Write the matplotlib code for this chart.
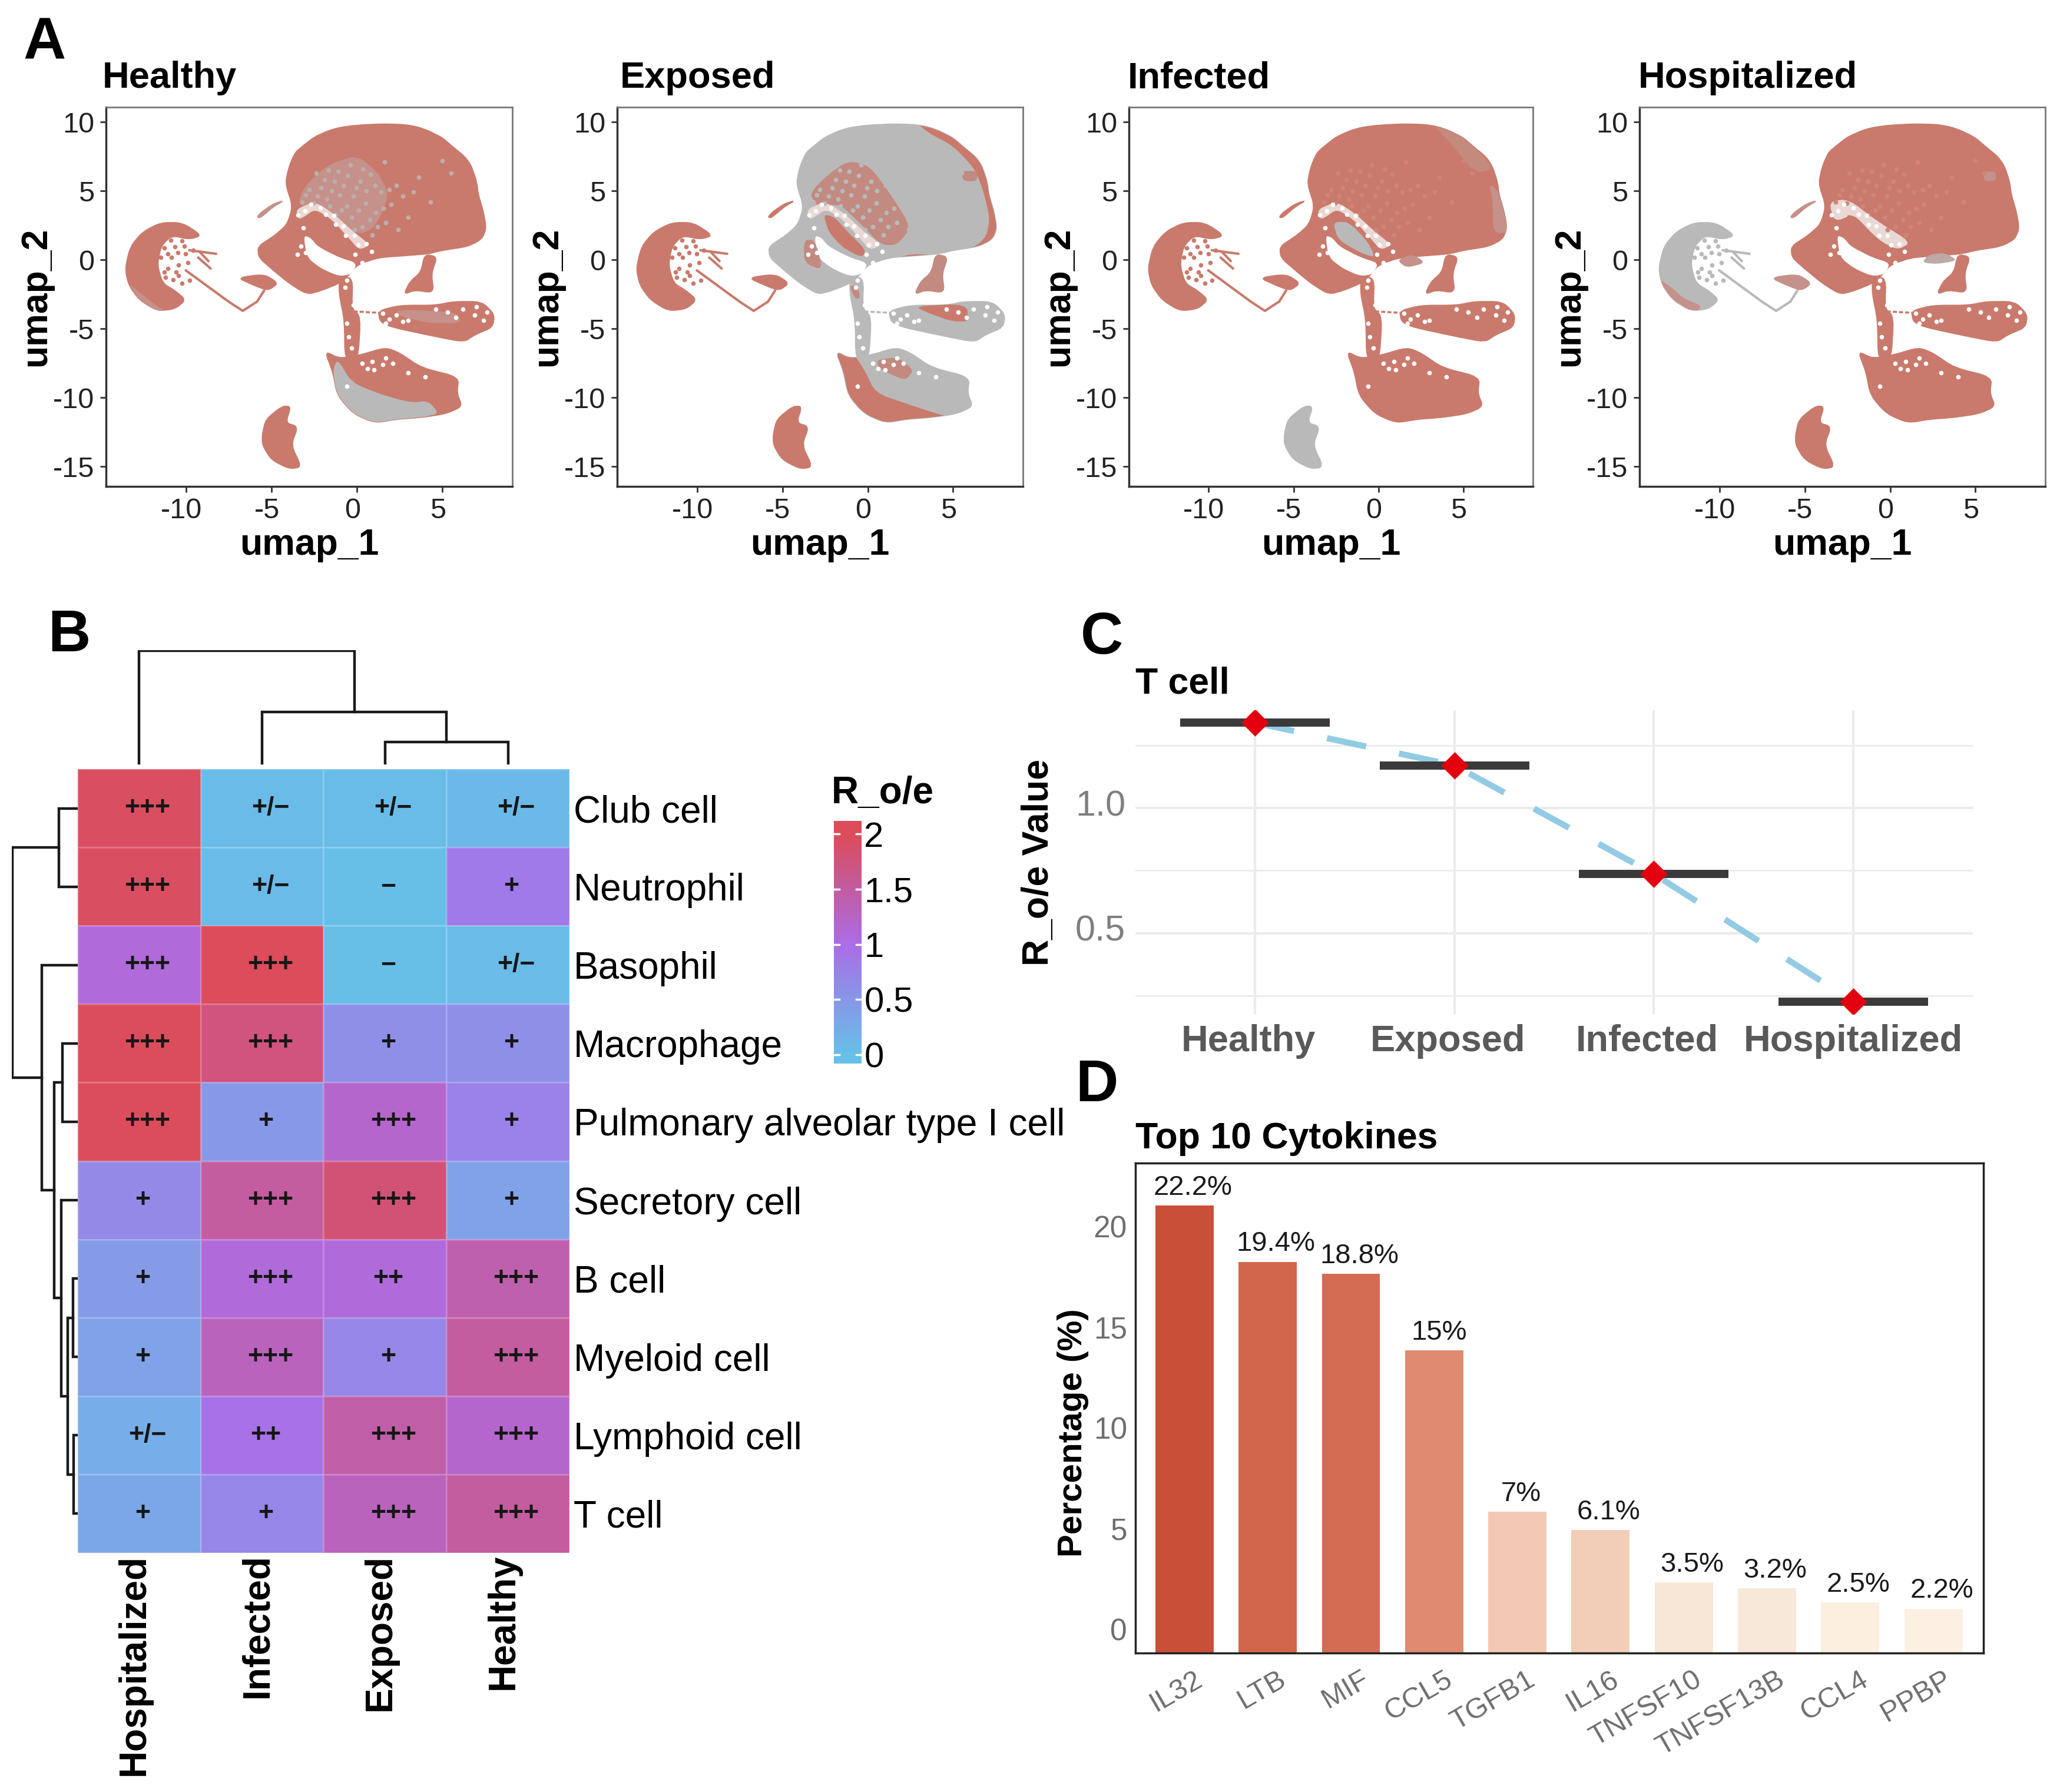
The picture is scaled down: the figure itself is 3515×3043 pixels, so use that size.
"""Four UMAP panels, a clustered R_o/e heatmap, T cell crossbars and cytokine bars."""
import numpy as np
import matplotlib
matplotlib.use("Agg")
import matplotlib.pyplot as plt
from matplotlib.colors import LinearSegmentedColormap
from matplotlib.patches import Polygon
from matplotlib.transforms import ScaledTranslation

plt.rcParams["font.family"] = ["Liberation Sans", "DejaVu Sans"]
plt.rcParams["axes.unicode_minus"] = False

W, H = 3516, 3043
RED = "#c97a6c"
GREY = "#b9b9b9"
MIX = "#c5918a"
MOTTLE = "#c28a80"
PALE = "#e9d8d4"

# ---- UMAP outlines in umap_1 / umap_2 units ----
TOP_BLOB = [(-4.18, 5.49), (-4.05, 6.4), (-3.87, 7.09), (-3.6, 7.8), (-3.13, 8.29), (-2.5, 8.9), (-1.67, 9.36),
            (-1, 9.6), (0, 9.76), (1.4, 9.85), (2.72, 9.81), (3.5, 9.65), (4.18, 9.36), (5.0, 8.85), (5.64, 8.16),
            (6.3, 7.5), (6.69, 6.83), (7.0, 5.7), (7.11, 4.69), (7.4, 3.5), (7.57, 2.29), (7.31, 1.49),
            (6.48, 0.96), (5.02, 0.69), (4.18, 0.43), (2.72, 0.29), (1.25, 0.16), (0, -0.37),
            (-0.52, -1.17), (-1.04, -1.71), (-2.09, -2.24), (-2.93, -2.51), (-3.97, -1.71),
            (-5.02, -0.64), (-5.75, 0.16), (-5.81, 0.96), (-4.81, 1.76), (-4.08, 2.56), (-3.76, 3.89)]
HOLE = [(-3.13, 1.76), (-2.72, 1.6), (-2.3, 0.96), (-1.04, 0.16), (0, -0.24), (-0.31, -1.04),
        (-1.04, -1.2), (-2.09, -0.64), (-2.93, 0.16)]
CRESCENT = [(-13.58, -0.64), (-13.27, 0.96), (-12.54, 2.03), (-11.49, 2.69), (-10.24, 2.69),
            (-9.09, 1.76), (-9.82, 1.49), (-10.87, 1.76), (-11.49, 0.96), (-11.70, -0.37),
            (-11.39, -1.71), (-10.66, -2.24), (-10.03, -2.91), (-10.66, -3.57), (-11.70, -3.71),
            (-12.75, -2.91), (-13.37, -1.84)]
STRIP = [(-5.85, 3.09), (-5.65, 3.05), (-4.9, 3.85), (-4.28, 4.29), (-4.9, 4.05), (-5.6, 3.45)]
WEDGE = [(-7.0, -1.31), (-5.44, -1.05), (-4.6, -1.71), (-5.22, -2.24), (-6.06, -1.84)]
STEM = [(-1.04, -1.3), (-0.25, -1.3), (-0.31, -3.57), (0.21, -4.11), (0.05, -7.3), (-0.7, -7.3),
        (-0.73, -4.37), (-1.04, -2.51)]
BRANCH = [(3.97, 0.4), (4.7, 0.2), (4.35, -1.0), (4.5, -2.4), (3.4, -2.2), (2.75, -2.5), (3.1, -1.6), (3.75, -0.9)]
RIGHT_BLOB = [(1.25, -3.71), (2.51, -3.31), (4.60, -3.31), (5.64, -3.04), (7.31, -3.04), (8.05, -3.97),
              (7.94, -4.91), (6.90, -5.44), (6.27, -5.97), (4.60, -5.57), (2.09, -4.91), (1.36, -4.51)]
BOTTOM_BLOB = [(-1.88, -6.64), (-1.04, -7.17), (0.21, -6.91), (1.67, -6.37), (2.51, -6.77), (3.76, -7.84),
               (5.96, -8.51), (5.85, -9.71), (6.17, -10.64), (5.22, -11.17), (3.76, -11.44), (2.30, -11.57),
               (1.04, -11.84), (-0.21, -11.17), (-1.15, -9.84), (-1.42, -8.11)]
SMALL = [(-5.54, -12.64), (-5.33, -11.57), (-4.39, -10.64), (-3.87, -10.64), (-4.18, -11.84),
         (-3.45, -12.11), (-3.87, -13.44), (-3.24, -15.04), (-3.97, -15.17), (-5.02, -14.51),
         (-5.54, -13.44)]
STREAKS = [[(-10.03, -0.77), (-7.52, -3.04), (-6.69, -3.71), (-5.85, -3.04), (-5.44, -2.24)],
           [(-9.82, 0.69), (-8.25, 0.43)], [(-9.3, 0.16), (-8.57, -0.64)], [(-9.2, 0.55), (-8.7, -0.1)]]
STEM_LINK = [(-0.2, -3.75), (1.3, -3.85)]

# overlays
H_GREY_LOW = [(-1.42, -8.11), (-1.15, -7.17), (-0.31, -8.91), (1.25, -9.71), (3.13, -10.37), (4.18, -10.24),
              (4.81, -11.17), (3.76, -11.44), (2.30, -11.57), (1.04, -11.84), (-0.21, -11.17), (-1.15, -9.84)]
H_MIX_TOP = [(-3.5, 3.9), (-3.1, 5.3), (-1.7, 6.9), (0, 7.6), (1.25, 6.3), (1.9, 4.7), (1.05, 2.3),
             (0, 1.8), (-1.7, 3.7)]
H_MIX_RIGHT = [(2.3, -3.6), (5.85, -3.8), (6.1, -4.6), (4.2, -4.6), (2.5, -4.1)]
H_MIX_CRES = [(-13.4, -1.7), (-12.7, -2.4), (-11.8, -3.3), (-11.2, -3.7), (-11.7, -3.71), (-12.75, -2.91)]
E_MOTTLE = [(-3.42, 4.78), (-2.45, 6.07), (-1.16, 7.19), (0.13, 6.81), (1.42, 4.59), (2.55, 2.37), (1.74, 1.07),
            (0.77, 1.07), (-0.52, 2.74), (-1.65, 4.04), (-2.94, 3.85)]
INNER = [(-2.61, 3.30), (-1.97, 3.11), (-1.16, 2.0), (-0.11, 0.70), (-0.35, 0.15), (-1.48, 0.89), (-2.29, 2.0)]
BAND = [(-3.58, 3.67), (-2.45, 4.22), (-1.32, 3.30), (-0.35, 2.19), (0.77, 1.07), (0.13, 0.70), (-0.52, 1.63),
        (-1.48, 2.93), (-2.45, 3.67), (-3.10, 3.11), (-3.42, 2.93)]
E_RIM_TOP = [(2.39, 10.5), (3.68, 10.5), (8.5, 8.5), (8.5, 0.4), (6.26, 0.2), (4.48, -0.4), (2.39, -0.9),
             (1.26, -0.5), (1.10, -0.22), (2.39, 0.43), (4.48, 0.33), (6.26, 0.89), (6.98, 1.72), (7.15, 3.11),
             (6.74, 5.15), (6.26, 6.63), (4.97, 8.30), (3.52, 9.22)]
E_RIM_LOW = [(-2.2, -6.2), (-1.0, -6.52), (-0.19, -8.0), (0.45, -9.67), (2.39, -10.5), (4.0, -11.15),
             (4.65, -11.37), (4.5, -12.5), (1.42, -12.5), (-2.5, -11.5)]
E_MOTTLE_LOW = [(0.53, -7.26), (1.74, -7.07), (2.71, -8.0), (2.23, -8.74), (1.42, -8.37), (0.61, -7.81)]
E_RED_RIGHT = [(2.71, -3.37), (5.77, -3.19), (5.94, -4.48), (4.97, -4.48), (3.68, -3.93)]
E_SPOT = [(5.45, 6.44), (6.42, 6.44), (6.42, 5.70), (5.61, 5.70)]
E_LOBE = [(-3.74, 1.44), (-3.10, 1.44), (-2.61, -0.78), (-3.74, -0.22)]
E_STEM = [(-1.08, -1.89), (-0.6, -1.89), (-0.44, -2.81), (-0.76, -2.81)]
I_INNER = [(-2.69, 2.74), (-1.73, 2.74), (-0.60, 1.26), (-0.19, 0.15), (-1.08, 0.52), (-2.37, 1.44)]
I_RIGHT = [(6.5, 5.70), (7.8, 3.85), (7.9, 2.0), (6.74, 1.91), (6.74, 4.22)]
I_TOPRIGHT = [(3.11, 9.9), (4.73, 9.2), (6.9, 6.63), (5.69, 6.26), (4.24, 8.48)]
I_MID = [(1.10, -0.04), (1.98, 0.43), (2.79, -0.22), (1.66, -0.59)]
P_CRES = [(-13.6, -1.33), (-12.76, -2.07), (-12.11, -2.81), (-11.0, -3.37), (-11.48, -3.9), (-12.6, -3.5),
          (-13.5, -2.26)]
P_CENTER = [(2.21, 0.33), (3.17, 0.52), (3.98, -0.04), (2.85, -0.31), (1.88, -0.22)]
P_SPOT = [(5.5, 6.4), (6.2, 6.4), (6.2, 5.7), (5.5, 5.7)]
P_BAND = [(-3.59, 4.22), (-2.46, 4.41), (-0.69, 2.74), (1.24, 1.26), (0.43, 0.70), (-0.69, 1.44), (-2.14, 3.30),
          (-3.27, 2.74)]

# loose cells, placed by eye
MOTTLE_SPECKS = [(-3.2, 4.2), (-2.8, 5.1), (-2.3, 4.6), (-1.9, 5.8), (-1.5, 5.0), (-1.1, 6.4), (-0.8, 5.4), (-0.4, 6.9),
                 (-0.2, 4.6), (0.2, 5.7), (0.5, 4.1), (0.8, 6.2), (1.1, 3.4), (1.4, 4.9), (1.7, 2.7), (2.0, 4.0),
                 (2.3, 5.4), (2.4, 2.2), (-0.9, 3.6), (-0.3, 3.1), (0.3, 2.4), (0.9, 1.8), (-1.6, 3.9), (3.0, 3.1),
                 (3.6, 6.0), (4.3, 4.2), (5.0, 7.2), (5.5, 6.3), (1.6, 7.1), (-2.4, 6.3),
                 (-3.0, 4.7), (-2.55, 4.1), (-2.1, 5.2), (-1.75, 4.4), (-1.3, 5.7), (-1.0, 4.7), (-0.55, 6.1),
                 (-0.6, 3.9), (-0.05, 5.2), (0.1, 3.6), (0.55, 5.0), (0.75, 2.9), (1.05, 5.4), (1.2, 2.4), (1.55, 3.7),
                 (1.9, 5.1), (-1.25, 3.3), (-0.15, 2.2), (0.35, 6.6), (-1.65, 6.5), (2.7, 4.6), (3.3, 4.9)]
BAND_SPECKS = [(-3.45, 3.25), (-3.05, 3.55), (-2.7, 4.0), (-2.15, 3.75), (-1.85, 3.3), (-1.35, 3.2), (-1.25, 2.55),
               (-0.8, 2.45), (-0.65, 1.75), (-0.15, 1.75), (0.05, 1.05), (0.55, 1.15), (0.85, 0.6), (-3.3, 1.0),
               (-3.0, 0.5), (-2.8, 1.3), (-0.6, -1.5), (-0.1, 0.4), (0.3, -0.2), (-0.7, -2.0), (-0.2, -3.3),
               (-0.5, -5.6), (-0.3, -6.4), (-0.6, -4.6), (-3.5, 0.4), (-3.15, 2.3)]
LOWER_SPECKS = [(1.5, -3.9), (1.9, -4.3), (2.3, -4.0), (4.6, -3.6), (5.3, -3.8), (6.2, -3.6), (6.9, -4.0), (7.4, -4.4),
                (5.8, -4.2), (3.0, -4.4), (0.3, -7.5), (0.9, -7.4), (1.5, -7.6), (2.1, -7.5), (1.0, -8.0), (3.0, -8.2),
                (4.0, -8.5), (-0.6, -9.2), (1.7, -4.6), (2.7, -4.5), (7.0, -3.4), (7.6, -3.8), (0.6, -7.9), (1.7, -7.15)]
CRES_SPECKS = [(-11.08, 0.43), (-10.66, 0.96), (-10.45, -0.37), (-10.03, 0.43), (-11.08, -0.64), (-10.76, -1.44),
               (-10.24, -1.71), (-11.29, 1.49), (-9.61, 0.69), (-10.45, -1.17), (-10.87, 0.16), (-10.24, 1.36),
               (-11.49, 0.16), (-11.29, -0.91), (-11.2, -1.3), (-10.6, -0.9), (-10.9, 1.4), (-10.5, 0.5), (-9.9, -0.2),
               (-9.8, -1.5), (-11.3, 0.85), (-10.1, 1.0)]

PANEL_NAMES = ["Healthy", "Exposed", "Infected", "Hospitalized"]
PANEL_BOX = [(180, 870), (1048, 1737), (1917, 2603), (2784, 3473)]
# colour of each base shape: top, crescent, strip, wedge, stem, branch, right, bottom, small, streak
PANEL_BASE = {
    "Healthy": [RED, RED, MIX, RED, RED, RED, RED, RED, RED, RED],
    "Exposed": [GREY, RED, RED, RED, GREY, MOTTLE, GREY, GREY, RED, RED],
    "Infected": [RED, RED, RED, RED, RED, RED, RED, RED, GREY, RED],
    "Hospitalized": [RED, GREY, MIX, MIX, RED, RED, RED, RED, RED, GREY],
}
# (outline, colour[, shape that clips it])
PANEL_OVERLAY = {
    "Healthy": [(H_MIX_TOP, MIX), (H_GREY_LOW, GREY), (H_MIX_RIGHT, MIX), (H_MIX_CRES, MIX), (BAND, PALE), (INNER, RED)],
    "Exposed": [(E_MOTTLE, MOTTLE), (E_RIM_TOP, RED, TOP_BLOB), (BAND, PALE), (INNER, RED),
                (E_RIM_LOW, RED, BOTTOM_BLOB), (E_MOTTLE_LOW, MOTTLE), (E_RED_RIGHT, RED), (E_SPOT, MOTTLE),
                (E_LOBE, MOTTLE), (E_STEM, MOTTLE)],
    "Infected": [(BAND, PALE), (I_INNER, GREY), (I_RIGHT, MIX, TOP_BLOB), (I_TOPRIGHT, "#c58a7e", TOP_BLOB), (I_MID, MIX)],
    "Hospitalized": [(P_CRES, MIX, CRESCENT), (P_BAND, PALE), (INNER, RED), (P_CENTER, "#bda9a5"), (P_SPOT, MIX)],
}
MOTTLE_DOT = {"Healthy": "#bcaeaa", "Exposed": GREY, "Infected": "#cd8578", "Hospitalized": "#cd8679"}

# ---- heatmap ----
HM_ROWS = ["Club cell", "Neutrophil", "Basophil", "Macrophage", "Pulmonary alveolar type I cell",
           "Secretory cell", "B cell", "Myeloid cell", "Lymphoid cell", "T cell"]
HM_COLS = ["Hospitalized", "Infected", "Exposed", "Healthy"]
HM_VALUES = [[1.95, 0.07, 0.05, 0.08],
             [1.95, 0.07, 0.02, 0.85],
             [1.10, 2.00, 0.02, 0.07],
             [1.98, 1.75, 0.60, 0.58],
             [1.98, 0.48, 1.20, 0.75],
             [0.65, 1.50, 1.80, 0.36],
             [0.45, 1.10, 1.10, 1.40],
             [0.36, 1.30, 0.70, 1.50],
             [0.22, 0.95, 1.45, 1.20],
             [0.30, 0.70, 1.30, 1.50]]
HM_MARKS = [["+++", "+/−", "+/−", "+/−"],
            ["+++", "+/−", "−", "+"],
            ["+++", "+++", "−", "+/−"],
            ["+++", "+++", "+", "+"],
            ["+++", "+", "+++", "+"],
            ["+", "+++", "+++", "+"],
            ["+", "+++", "++", "+++"],
            ["+", "+++", "+", "+++"],
            ["+/−", "++", "+++", "+++"],
            ["+", "+", "+++", "+++"]]
# (pos a, height a, pos b, height b, join height)
COL_LINKS = [(2.5, 0.08, 3.5, 0.08, 0.36), (1.5, 0.08, 3.0, 0.36, 0.76), (0.5, 0.08, 2.25, 0.76, 1.58)]
ROW_LINKS = [(0.5, 0.02, 1.5, 0.02, 0.27), (3.5, 0.02, 4.5, 0.02, 0.22), (6.5, 0.02, 7.5, 0.02, 0.07),
             (8.5, 0.02, 9.5, 0.02, 0.06), (7.0, 0.07, 9.0, 0.06, 0.14), (5.5, 0.02, 8.0, 0.14, 0.24),
             (4.0, 0.22, 6.75, 0.24, 0.34), (2.5, 0.02, 5.375, 0.34, 0.52), (1.0, 0.27, 3.94, 0.52, 0.94)]
CBAR_TICKS = [0, 0.5, 1, 1.5, 2]
CBAR_LABELS = ["0", "0.5", "1", "1.5", "2"]

# ---- T cell ----
TCELL_GROUPS = ["Healthy", "Exposed", "Infected", "Hospitalized"]
TCELL_VALUES = [1.34, 1.17, 0.737, 0.228]

# ---- cytokines ----
CYTOKINES = ["IL32", "LTB", "MIF", "CCL5", "TGFB1", "IL16", "TNFSF10", "TNFSF13B", "CCL4", "PPBP"]
CYTOKINE_PCT = [22.2, 19.4, 18.8, 15, 7, 6.1, 3.5, 3.2, 2.5, 2.2]
CYTOKINE_LABELS = ["22.2%", "19.4%", "18.8%", "15%", "7%", "6.1%", "3.5%", "3.2%", "2.5%", "2.2%"]
CYTOKINE_COLORS = ["#c84f38", "#d2664c", "#d36c53", "#e08b70", "#f2c9b2", "#f2cdb8", "#f8e6d6", "#f8e8da",
                   "#fbefe0", "#fbf0e2"]

fig = plt.figure(figsize=(W / 100, H / 100), dpi=100, facecolor="white")


def px_axes(left, top, right, bottom, **kw):
    return fig.add_axes([left / W, 1 - bottom / H, (right - left) / W, (bottom - top) / H], **kw)


def px_text(x, y, s, **kw):
    return fig.text(x / W, 1 - y / H, s, **kw)


def px_shift(dx, dy):
    """Transform offset in output pixels (dy up)."""
    return ScaledTranslation(dx / 100, dy / 100, fig.dpi_scale_trans)


def soft(poly, passes=2):
    """Corner cutting, so the traced outlines don't look faceted."""
    p = np.asarray(poly, float)
    for _ in range(passes):
        q = np.roll(p, -1, axis=0)
        p = np.column_stack([0.8 * p + 0.2 * q, 0.2 * p + 0.8 * q]).reshape(-1, 2)
    return p


def draw_umap(ax, name):
    base = PANEL_BASE[name]
    shapes = [TOP_BLOB, CRESCENT, STRIP, WEDGE, STEM, BRANCH, RIGHT_BLOB, BOTTOM_BLOB, SMALL]
    for poly, col in zip(shapes, base):
        p = soft(poly)
        ax.fill(p[:, 0], p[:, 1], color=col, lw=1.5, zorder=2)
    p = soft(HOLE)
    ax.fill(p[:, 0], p[:, 1], color="white", lw=0, zorder=3)
    for item in PANEL_OVERLAY[name]:
        p = soft(item[0])
        patch = ax.fill(p[:, 0], p[:, 1], color=item[1], lw=0, zorder=4)[0]
        if len(item) > 2:
            clip = Polygon(soft(item[2]), transform=ax.transData)
            patch.set_clip_path(clip)
    for st in STREAKS:
        xy = np.array(st)
        ax.plot(xy[:, 0], xy[:, 1], color=base[9], lw=3, zorder=5, solid_capstyle="round")
    xy = np.array(STEM_LINK)
    ax.plot(xy[:, 0], xy[:, 1], color=base[4], lw=2.5, ls=(0, (2, 1)), zorder=5)
    xy = np.array(CRES_SPECKS)
    ax.scatter(xy[:, 0], xy[:, 1], s=30, color=base[9], lw=0, zorder=5)
    xy = np.array(MOTTLE_SPECKS)
    ax.scatter(xy[:, 0], xy[:, 1], s=32, color=MOTTLE_DOT[name], lw=0, zorder=5)
    xy = np.array(BAND_SPECKS + LOWER_SPECKS)
    ax.scatter(xy[:, 0], xy[:, 1], s=30, color="white", lw=0, zorder=6)

    ax.set_xlim(-14.7, 9.1)
    ax.set_ylim(-16.45, 11.07)
    ax.set_xticks([-10, -5, 0, 5])
    ax.set_yticks([-15, -10, -5, 0, 5, 10])
    ax.tick_params(labelsize=35, length=7, width=2, color="#333333", labelcolor="#222222", pad=7)
    for lab in ax.get_xticklabels():
        lab.set_transform(lab.get_transform() + px_shift(-8, 0))
    ax.set_xlabel("umap_1", fontsize=45, fontweight="bold", labelpad=4)
    ax.set_ylabel("umap_2", fontsize=45, fontweight="bold", labelpad=0)
    for side in ("left", "bottom"):
        ax.spines[side].set_color("#333333")
        ax.spines[side].set_linewidth(2.5)
    for side in ("top", "right"):
        ax.spines[side].set_color("#777777")
        ax.spines[side].set_linewidth(2)


for name, (left, right) in zip(PANEL_NAMES, PANEL_BOX):
    ax = px_axes(left, 182, right, 826)
    draw_umap(ax, name)
for name, x in zip(PANEL_NAMES, [174, 1053, 1915, 2782]):
    px_text(x, 149, name, fontsize=45.5, fontweight="bold", va="baseline", ha="left")

# ---- B: heatmap with dendrograms ----
HM_L, HM_T, HM_R, HM_B = 132, 1306, 967, 2637
cmap = LinearSegmentedColormap.from_list("roe", ["#66c0e8", "#ab6de8", "#dc4c5a"])
ax = px_axes(HM_L, HM_T, HM_R, HM_B)
ax.pcolormesh(np.arange(5), np.arange(11), np.array(HM_VALUES), cmap=cmap, vmin=0, vmax=2,
              edgecolors=(1, 1, 1, 0.18), linewidth=1)
ax.set_xlim(0, 4)
ax.set_ylim(10, 0)
for i, row in enumerate(HM_MARKS):
    for j, mark in enumerate(row):
        off = 10 if len(mark) == 3 else 4
        ax.annotate(mark, (j + 0.5, i + 0.5), xytext=(off, 0), textcoords="offset points",
                    ha="center", va="center", fontsize=32, fontweight="bold", color="#161616")
ax.yaxis.tick_right()
ax.set_yticks(np.arange(10) + 0.5, HM_ROWS, fontsize=46)
ax.set_xticks(np.arange(4) + 0.46, HM_COLS, fontsize=46, fontweight="bold", rotation=90)
ax.tick_params(length=0, axis="y", pad=5)
ax.tick_params(length=0, axis="x", pad=1)
for s in ax.spines.values():
    s.set_visible(False)

ax = px_axes(HM_L, 1104, HM_R, HM_T)
for a, ha, b, hb, h in COL_LINKS:
    ax.plot([a, a, b, b], [ha, h, h, hb], color="#1a1a1a", lw=3.2, solid_joinstyle="miter")
ax.set_xlim(0, 4)
ax.set_ylim(0, 1.59)
ax.axis("off")

ax = px_axes(20, HM_T, HM_L, HM_B)
for a, ha, b, hb, h in ROW_LINKS:
    ax.plot([ha, h, h, hb], [a, a, b, b], color="#1a1a1a", lw=3.2, solid_joinstyle="miter")
ax.set_xlim(0.95, 0)
ax.set_ylim(10, 0)
ax.axis("off")

# colour key
ax = px_axes(1416, 1394, 1463, 1806)
grad = np.linspace(2.12, -0.08, 256).reshape(-1, 1)
ax.imshow(grad, cmap=cmap, vmin=0, vmax=2, aspect="auto", extent=[0, 1, -0.08, 2.12])
for t in CBAR_TICKS:
    ax.plot([0, 0.2], [t, t], color="white", lw=2.5)
    ax.plot([0.8, 1], [t, t], color="white", lw=2.5)
ax.set_xlim(0, 1)
ax.set_ylim(-0.08, 2.12)
ax.set_xticks([])
ax.yaxis.tick_right()
ax.set_yticks(CBAR_TICKS, CBAR_LABELS, fontsize=43)
ax.tick_params(axis="y", length=0, pad=3)
for s in ax.spines.values():
    s.set_visible(False)
px_text(1412, 1364, "R_o/e", fontsize=46, fontweight="bold", va="baseline", ha="left")

# ---- C: T cell ----
ax = px_axes(1928, 1206, 3350, 1722)
xs = np.arange(1, 5)
ax.plot(xs, TCELL_VALUES, color="#93cbe4", lw=7.5, ls=(0, (6.5, 5.5)), zorder=2)
ax.hlines(TCELL_VALUES, xs - 0.375, xs + 0.375, color="#3a3a3a", lw=10, zorder=3)
ax.scatter(xs, TCELL_VALUES, marker="D", s=560, color="#e3000f", lw=0, zorder=4)
ax.set_xlim(0.4, 4.6)
ax.set_ylim(0.178, 1.39)
ax.set_xticks(xs, TCELL_GROUPS, fontsize=45.5, fontweight="bold", color="#595959")
ax.set_yticks([0.5, 1.0], ["0.5", "1.0"], fontsize=44, color="#7f7f7f")
ax.set_yticks([0.25, 0.75, 1.25], minor=True)
ax.tick_params(which="both", length=0)
ax.tick_params(axis="x", pad=12)
ax.tick_params(axis="y", pad=12)
for lab in ax.get_xticklabels()[:3]:
    lab.set_transform(lab.get_transform() + px_shift(-11, 0))
for lab in ax.get_yticklabels():
    lab.set_transform(lab.get_transform() + px_shift(0, 9))
ax.grid(True, which="major", color="#ebebeb", lw=3)
ax.grid(True, which="minor", axis="y", color="#ebebeb", lw=2)
ax.set_axisbelow(True)
for s in ax.spines.values():
    s.set_visible(False)
ax.set_ylabel("R_o/e Value", fontsize=45, fontweight="bold", labelpad=24)
px_text(1928, 1177, "T cell", fontsize=45, fontweight="bold", va="baseline", ha="left")

# ---- D: cytokines ----
ax = px_axes(1928, 1975, 3368, 2807)
xs = np.arange(len(CYTOKINES))
bars = ax.bar(xs, CYTOKINE_PCT, width=0.7, color=CYTOKINE_COLORS)
for b, lab in zip(bars, CYTOKINE_LABELS):
    off = {2: 4, 3: 6}.get(len(lab), 10)
    ax.annotate(lab, (b.get_x() + b.get_width() / 2, b.get_height()), xytext=(off, 6),
                textcoords="offset points", ha="center", va="bottom", fontsize=34, color="#1a1a1a")
ax.set_xlim(-0.59, 9.6)
ax.set_ylim(0, 24.3)
ax.set_yticks([0, 5, 10, 15, 20], ["0", "5", "10", "15", "20"], fontsize=37, color="#6e6e6e")
ax.set_xticks(xs, CYTOKINES, fontsize=35, color="#6e6e6e", rotation=30, ha="right", rotation_mode="anchor")
ax.tick_params(length=0)
ax.tick_params(axis="y", pad=10)
ax.tick_params(axis="x", pad=16)
# the value labels sit a little above their ticks in the original
for lab in ax.get_yticklabels():
    lab.set_transform(lab.get_transform() + px_shift(0, 40))
for lab in ax.get_xticklabels():
    lab.set_transform(lab.get_transform() + px_shift(16, 0))
for s in ax.spines.values():
    s.set_linewidth(2.5)
    s.set_color("#222222")
px_text(1822, 2433, "Percentage (%)", fontsize=42, fontweight="bold", rotation=90, ha="center", va="center")
px_text(1928, 1950, "Top 10 Cytokines", fontsize=45, fontweight="bold", va="baseline", ha="left")

# panel letters
for letter, x, y in [("A", 40, 101), ("B", 81, 1106), ("C", 1835, 1110), ("D", 1826, 1870)]:
    px_text(x, y, letter, fontsize=72, fontweight="bold", va="baseline", ha="left")

fig.savefig("out.png", dpi=100, facecolor="white")
